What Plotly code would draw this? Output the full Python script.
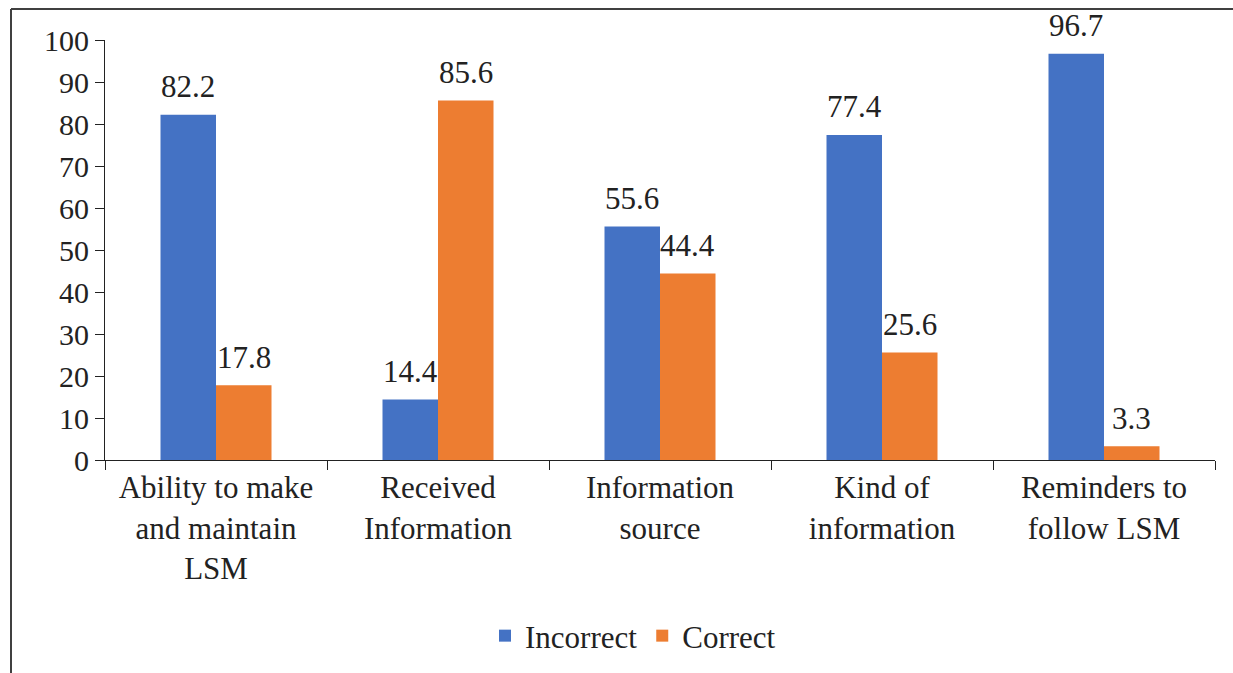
import plotly.graph_objects as go

categories = ["Ability to make<br>and maintain<br>LSM", "Received<br>Information",
              "Information<br>source", "Kind of<br>information", "Reminders to<br>follow LSM"]
incorrect = [82.2, 14.4, 55.6, 77.4, 96.7]
correct = [17.8, 85.6, 44.4, 25.6, 3.3]
y_ticks = list(range(0, 101, 10))

FONT = "'Liberation Serif', 'Times New Roman', Tinos, 'DejaVu Serif', serif"
BLUE = "#4472C4"
ORANGE = "#ED7D31"

fig = go.Figure()
fig.add_trace(go.Bar(x=list(range(len(categories))), y=incorrect, name="Incorrect",
                     marker=dict(color=BLUE, line=dict(width=0))))
fig.add_trace(go.Bar(x=list(range(len(categories))), y=correct, name="Correct",
                     marker=dict(color=ORANGE, line=dict(width=0))))

annotations = []
for i, (a, b) in enumerate(zip(incorrect, correct)):
    for val, off in ((a, -0.125), (b, 0.125)):
        annotations.append(dict(x=i + off, y=val, xref="x", yref="y", text=f"{val}",
                                showarrow=False, yanchor="middle", yshift=28,
                                font=dict(family=FONT, size=31, color="#222")))

W, H = 1233, 673
L, R, T, B = 105, 18, 40, 212
pw, ph = W - L - R, H - T - B

def px(x):
    return (x - L) / pw

def py(y):
    return (H - B - y) / ph

shapes = [
    dict(type="line", xref="paper", yref="paper", x0=px(11), x1=px(1240), y0=py(9), y1=py(9),
         line=dict(color="#404040", width=2)),
    dict(type="line", xref="paper", yref="paper", x0=px(11), x1=px(11), y0=py(9), y1=py(680),
         line=dict(color="#404040", width=2)),
]

fig.update_layout(
    width=W, height=H,
    margin=dict(l=L, r=R, t=T, b=B),
    paper_bgcolor="white", plot_bgcolor="white",
    barmode="group", bargap=0.5, bargroupgap=0,
    font=dict(family=FONT, size=31, color="#222"),
    showlegend=True,
    legend=dict(orientation="h", x=px(633), xanchor="center", y=py(636), yanchor="middle",
                font=dict(family=FONT, size=31, color="#222"), itemsizing="constant",
                traceorder="normal"),
    annotations=annotations,
    shapes=shapes,
)
fig.update_xaxes(
    tickmode="array", tickvals=list(range(len(categories))), ticktext=categories,
    range=[-0.5, len(categories) - 0.5],
    showline=True, linecolor="#222", linewidth=1,
    ticks="", showgrid=False, zeroline=False,
    tickfont=dict(family=FONT, size=31, color="#222"),
)
fig.update_xaxes(minor=dict(tickmode="array", tickvals=[i - 0.5 for i in range(len(categories) + 1)],
                            ticks="outside", ticklen=9, tickcolor="#222", showgrid=False))
fig.update_yaxes(
    range=[0, 100], tickmode="array", tickvals=y_ticks,
    showline=True, linecolor="#222", linewidth=1,
    ticks="outside", ticklen=9, tickcolor="#222", showgrid=False, zeroline=False,
    tickfont=dict(family=FONT, size=30, color="#222"),
)

fig.write_html("out.html")
